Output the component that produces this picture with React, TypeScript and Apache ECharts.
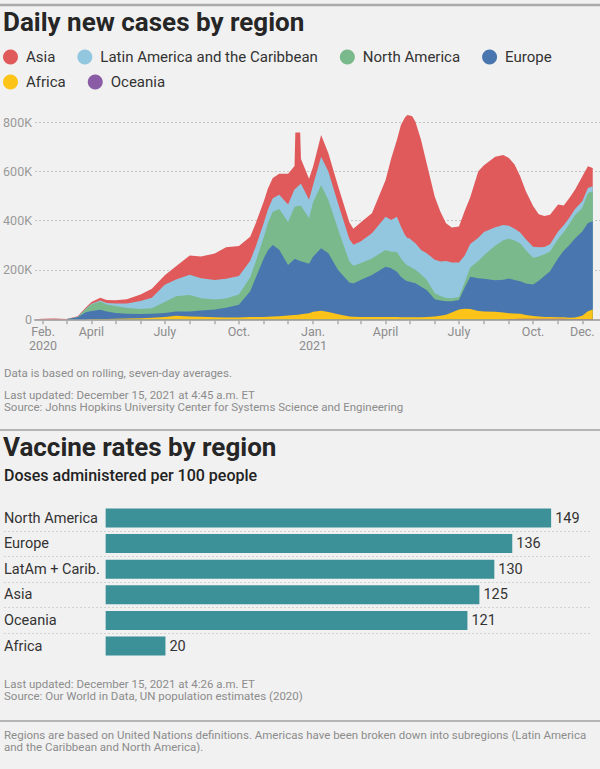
import React, { useEffect, useRef } from 'react';
import * as echarts from 'echarts';

// ---- Daily new cases (7-day average, thousands) ----
const dates = [
  '2020-01-22', '2020-02-01', '2020-02-15', '2020-03-01', '2020-03-15', '2020-03-25', '2020-04-01', '2020-04-12', '2020-04-20', '2020-05-01',
  '2020-05-15', '2020-06-01', '2020-06-15', '2020-07-01', '2020-07-15', '2020-08-01', '2020-08-15', '2020-09-01', '2020-09-15', '2020-10-01',
  '2020-10-15', '2020-10-22', '2020-11-01', '2020-11-06', '2020-11-12', '2020-11-20', '2020-12-01', '2020-12-09', '2020-12-10', '2020-12-16',
  '2020-12-17', '2020-12-27', '2021-01-01', '2021-01-11', '2021-01-20', '2021-02-01', '2021-02-15', '2021-02-20', '2021-03-01', '2021-03-15',
  '2021-04-01', '2021-04-08', '2021-04-15', '2021-04-20', '2021-04-25', '2021-04-28', '2021-05-01', '2021-05-04', '2021-05-08', '2021-05-15',
  '2021-05-22', '2021-06-01', '2021-06-08', '2021-06-15', '2021-06-22', '2021-07-01', '2021-07-08', '2021-07-15', '2021-07-25', '2021-08-01',
  '2021-08-15', '2021-08-25', '2021-09-01', '2021-09-08', '2021-09-15', '2021-09-22', '2021-10-01', '2021-10-08', '2021-10-15', '2021-10-22',
  '2021-11-01', '2021-11-08', '2021-11-15', '2021-11-22', '2021-12-01', '2021-12-08', '2021-12-14',
];
const oceania = [
  0, 0, 0, 0, 0.05, 0.3, 0.4, 0.3, 0.1, 0,
  0, 0, 0, 0.1, 0.3, 0.5, 0.3, 0.1, 0.1, 0,
  0, 0, 0, 0, 0, 0, 0, 0, 0, 0,
  0, 0, 0, 0, 0, 0, 0, 0, 0, 0,
  0, 0, 0, 0, 0, 0, 0, 0, 0, 0,
  0, 0, 0, 0, 0, 0, 0, 0.1, 0.1, 0.2,
  0.3, 0.5, 1, 1.5, 2, 2, 2.5, 2.5, 2.5, 2.5,
  2, 2, 1.5, 1.5, 1.5, 1.5, 1.5,
];
const africa = [
  0, 0, 0, 0, 0.05, 0.3, 0.6, 0.9, 1.1, 1.8,
  3, 4, 6, 9, 14, 11, 10, 8, 7, 7,
  9, 9, 9, 10, 11, 12, 15, 17, 17, 19,
  20, 25, 31, 35, 30, 20, 11, 10, 9, 9,
  9, 9, 9, 8, 8, 8, 8, 8, 8, 8,
  9, 11, 14, 18, 28, 40, 43, 42, 34, 31,
  30, 27, 24, 22, 20, 15, 11, 9, 7, 7,
  6, 6, 5, 6, 13, 31, 38,
];
const europe = [
  0, 0, 0, 0.3, 8, 28, 33, 38, 30, 24,
  19, 17, 17, 16, 17, 20, 25, 32, 40, 52,
  105, 160, 240, 270, 290, 270, 205, 228, 228, 217,
  215, 200, 223, 253, 238, 180, 138, 135, 150, 171,
  204, 198, 184, 165, 151, 146, 144, 141, 138, 124,
  110, 70, 62, 55, 45, 38, 85, 130, 132, 133,
  128, 133, 140, 136, 132, 128, 128, 145, 166, 185,
  240, 270, 295, 320, 342, 358, 358,
];
const northAmerica = [
  0, 0, 0, 0, 1, 13, 27, 33, 29, 28,
  24, 21, 22, 45, 62, 67, 50, 40, 37, 42,
  57, 65, 86, 110, 135, 165, 175, 210, 212, 224,
  225, 185, 221, 256, 216, 165, 85, 72, 68, 67,
  68, 67, 80, 74, 68, 64, 62, 59, 55, 50,
  40, 25, 18, 13, 12, 12, 20, 38, 70, 95,
  140, 160, 162, 160, 153, 135, 108, 98, 88, 80,
  78, 75, 85, 95, 95, 122, 121,
];
const latinAmerica = [
  0, 0, 0, 0, 0.1, 1.5, 2, 4.5, 6, 10,
  18, 32, 42, 70, 68, 82, 81, 79, 80, 75,
  66, 62, 58, 55, 55, 58, 70, 72, 72, 88,
  90, 75, 70, 115, 115, 105, 92, 85, 88, 102,
  135, 129, 143, 129, 115, 112, 114, 110, 107, 99,
  109, 135, 140, 150, 145, 140, 110, 95, 95, 95,
  75, 62, 52, 48, 45, 45, 45, 38, 30, 30,
  30, 28, 25, 25, 27, 20, 21,
];
const asia = [
  0.1, 2.5, 3.2, 1.2, 3, 5, 7, 11, 12, 13,
  17, 27, 37, 39, 54, 78, 88, 108, 128, 121,
  98, 94, 87, 85, 82, 85, 125, 95, 228, 209,
  100, 85, 74, 88, 74, 70, 68, 65, 77, 81,
  149, 250, 311, 412, 476, 498, 498, 505, 493, 446,
  364, 256, 202, 153, 142, 146, 180, 190, 269, 270,
  286, 284, 275, 260, 228, 194, 165, 133, 125, 119,
  109, 80, 80, 78, 101, 88, 74,
];
const legendOrder = ['Asia', 'Latin America and the Caribbean', 'North America', 'Europe', 'Africa', 'Oceania'];
const yTicks = [0, 200000, 400000, 600000, 800000];
const monthTicks = [
  '2020-02-01', '2020-03-01', '2020-04-01', '2020-05-01', '2020-06-01', '2020-07-01', '2020-08-01', '2020-09-01', '2020-10-01', '2020-11-01', '2020-12-01',
  '2021-01-01', '2021-02-01', '2021-03-01', '2021-04-01', '2021-05-01', '2021-06-01', '2021-07-01', '2021-08-01', '2021-09-01', '2021-10-01', '2021-11-01', '2021-12-01',
];
const xLabelDates = ['2020-02-01', '2020-04-01', '2020-07-01', '2020-10-01', '2021-01-01', '2021-04-01', '2021-07-01', '2021-10-01', '2021-12-01'];
const xLabelTexts = ['Feb.\n2020', 'April', 'July', 'Oct.', 'Jan.\n2021', 'April', 'July', 'Oct.', 'Dec.'];
const xRange = ['2020-01-22', '2021-12-23'];

// ---- Vaccine rates ----
const vaccineRegions = ['North America', 'Europe', 'LatAm + Carib.', 'Asia', 'Oceania', 'Africa'];
const vaccineDoses = [149, 136, 130, 125, 121, 20];

const FONT = 'Roboto, "Noto Sans", sans-serif';
const ts = (s: string) => Date.parse(s + 'T00:00:00Z');

export default function App() {
  const ref = useRef<HTMLDivElement>(null);
  useEffect(() => {
    if (!ref.current) return;
    document.body.style.margin = '0';
    document.body.style.background = '#f1f1f1';
    const chart = echarts.init(ref.current, undefined, { renderer: 'svg' });

    // bottom -> top stacking order
    const regions = [
      { name: 'Oceania', values: oceania, color: '#8a5ca6' },
      { name: 'Africa', values: africa, color: '#fcc419' },
      { name: 'Europe', values: europe, color: '#4a76af' },
      { name: 'North America', values: northAmerica, color: '#79b98b' },
      { name: 'Latin America and the Caribbean', values: latinAmerica, color: '#93c6df' },
      { name: 'Asia', values: asia, color: '#e05a5c' },
    ];
    // cumulative tops (stacked), painted from the top layer down so lower layers cover upper ones
    let running = dates.map(() => 0);
    const stacked = regions.map((r) => {
      running = running.map((s, i) => s + r.values[i]);
      return { ...r, tops: running.slice() };
    });
    const paintOrder = stacked.slice().reverse();

    const xLabelTs = xLabelDates.map(ts);
    const labelFor = (v: number) => {
      for (let i = 0; i < xLabelTs.length; i++) if (Math.abs(xLabelTs[i] - v) < 3600000) return xLabelTexts[i];
      return '';
    };

    const noteStyle = (text: string, y: number) => ({
      type: 'text', x: 4, y, scaleX: 1.045,
      style: { text, fill: '#8c8c8c', fontSize: 11, fontFamily: FONT, verticalAlign: 'middle' },
    });
    const titleStyle = (text: string, y: number) => ({
      type: 'text', x: 3, y,
      style: { text, fill: '#262626', fontSize: 26, fontWeight: 'bold', fontFamily: FONT, verticalAlign: 'middle' },
    });
    const rule = (y: number, w: number, c: string) => ({
      type: 'line', shape: { x1: 0, y1: y, x2: 600, y2: y }, style: { stroke: c, lineWidth: w },
    });

    const option: any = {
      animation: false,
      backgroundColor: '#f1f1f1',
      textStyle: { fontFamily: FONT },
      legend: {
        data: legendOrder,
        icon: 'circle',
        left: 3, top: 49, width: 585,
        padding: 0,
        itemWidth: 15, itemHeight: 15, itemGap: 9,
        selectedMode: false,
        textStyle: { fontSize: 15, color: '#333', fontFamily: FONT, lineHeight: 16, padding: [0, 13, 0, 3] },
      },
      grid: [
        { left: 35, right: 0, top: 122, bottom: 769 - 319.3 },
        { left: 4, right: 10, top: 505.2, height: 153.6 },
      ],
      xAxis: [
        {
          type: 'value', gridIndex: 0,
          min: ts(xRange[0]), max: ts(xRange[1]),
          axisLine: { show: true, lineStyle: { color: '#adadad', width: 2 } },
          axisTick: { show: true, length: 5, lineStyle: { color: '#adadad', width: 1.5 }, customValues: monthTicks.map(ts) },
          axisLabel: {
            customValues: xLabelTs,
            formatter: (v: number) => labelFor(v),
            color: '#8c8c8c', fontSize: 12.5, lineHeight: 14, margin: 5, fontFamily: FONT,
          },
          splitLine: { show: false },
        },
        {
          type: 'value', gridIndex: 1, min: -34, max: 162, show: false,
        },
      ],
      yAxis: [
        {
          type: 'value', gridIndex: 0, min: yTicks[0], max: yTicks[yTicks.length - 1], interval: 200000,
          axisLine: { show: false }, axisTick: { show: false },
          axisLabel: {
            formatter: (v: number) => (v === 0 ? '0' : v / 1000 + 'K'),
            color: '#999', fontSize: 12.5, margin: 3, fontFamily: FONT,
          },
          splitLine: { show: true, lineStyle: { color: '#c4c4c4', type: [2, 2], width: 1 } },
        },
        {
          type: 'category', gridIndex: 1, data: vaccineRegions, inverse: true,
          axisLine: { show: false }, axisTick: { show: false },
          axisLabel: { inside: true, margin: 0, color: '#333', fontSize: 14.5, fontFamily: FONT },
          splitLine: { show: true, showMinLine: false, showMaxLine: false, lineStyle: { color: '#d2d2d2', type: [2, 2], width: 1 } },
        },
      ],
      series: [
        ...paintOrder.map((r) => ({
          name: r.name, type: 'line', xAxisIndex: 0, yAxisIndex: 0,
          symbol: 'none', showSymbol: false, clip: false,
          lineStyle: { width: 0 },
          itemStyle: { color: r.color },
          areaStyle: { color: r.color, opacity: 1 },
          data: dates.map((d, i) => [ts(d), r.tops[i] * 1000]),
        })),
        {
          name: 'Doses', type: 'bar', xAxisIndex: 1, yAxisIndex: 1,
          barWidth: 19,
          itemStyle: { color: '#3b9197' },
          label: { show: true, position: 'right', distance: 4, color: '#333', fontSize: 14.5, fontFamily: FONT },
          data: vaccineDoses,
        },
      ],
      graphic: [
        rule(5, 2.5, '#ababab'),
        titleStyle('Daily new cases by region', 22),
        noteStyle('Data is based on rolling, seven-day averages.', 374),
        noteStyle('Last updated: December 15, 2021 at 4:45 a.m. ET', 396),
        noteStyle('Source: Johns Hopkins University Center for Systems Science and Engineering', 408),
        rule(430, 1.5, '#a0a0a0'),
        titleStyle('Vaccine rates by region', 447),
        {
          type: 'text', x: 4, y: 475,
          style: { text: 'Doses administered per 100 people', fill: '#222', fontSize: 16, fontWeight: 500, fontFamily: FONT, verticalAlign: 'middle' },
        },
        noteStyle('Last updated: December 15, 2021 at 4:26 a.m. ET', 685),
        noteStyle('Source: Our World in Data, UN population estimates (2020)', 697),
        rule(721, 1.5, '#a0a0a0'),
        noteStyle('Regions are based on United Nations definitions. Americas have been broken down into subregions (Latin America', 736),
        noteStyle('and the Caribbean and North America).', 748),
      ],
    };
    chart.setOption(option);
    return () => chart.dispose();
  }, []);
  return <div ref={ref} style={{ position: 'absolute', left: 0, top: 0, width: 600, height: 769 }} />;
}
